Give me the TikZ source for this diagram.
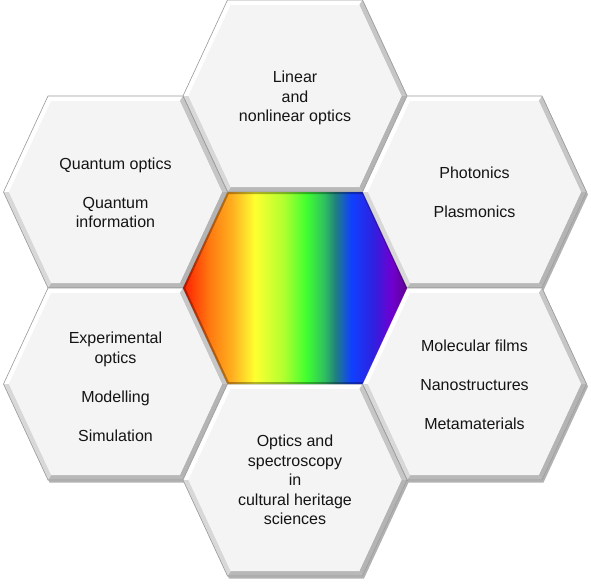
\documentclass[tikz,border=0pt]{standalone}
\usepackage{fontspec}
\setmainfont{Liberation Sans}
\usetikzlibrary{shadows}
\definecolor{rb0}{HTML}{FF1E00}
\definecolor{rb1}{HTML}{FF7A10}
\definecolor{rb2}{HTML}{FFB020}
\definecolor{rb3}{HTML}{FFFF30}
\definecolor{rb4}{HTML}{B0FF30}
\definecolor{rb5}{HTML}{40FF30}
\definecolor{rb6}{HTML}{30C060}
\definecolor{rb7}{HTML}{208080}
\definecolor{rb8}{HTML}{1040FF}
\definecolor{rb9}{HTML}{3020E0}
\definecolor{rb10}{HTML}{7000D0}
\definecolor{rb11}{HTML}{600090}
\definecolor{hexface}{HTML}{F4F4F4}
\definecolor{hexline}{HTML}{9A9A9A}
\definecolor{bevUR}{HTML}{C6C6C6}
\definecolor{bevLR}{HTML}{B4B4B4}
\definecolor{bevB}{HTML}{B8B8B8}
\definecolor{bevLL}{HTML}{D8D8D8}
\definecolor{txt}{HTML}{141414}
\pgfdeclarehorizontalshading{rainbowshade}{100bp}{color(0bp)=(rb0); color(25bp)=(rb0); color(31bp)=(rb1); color(36bp)=(rb2); color(41bp)=(rb3); color(47.5bp)=(rb4); color(52.5bp)=(rb5); color(56.5bp)=(rb6); color(59bp)=(rb7); color(62.5bp)=(rb8); color(67.5bp)=(rb9); color(71.5bp)=(rb10); color(75bp)=(rb11); color(100bp)=(rb11)}
\newcommand\hexcell[2]{%
  \coordinate (o1) at (#1-112,#2);
  \coordinate (o2) at (#1-67.5,#2-96);
  \coordinate (o3) at (#1+67.5,#2-96);
  \coordinate (o4) at (#1+112,#2);
  \coordinate (o5) at (#1+67.5,#2+96);
  \coordinate (o6) at (#1-67.5,#2+96);
  \coordinate (i1) at (#1-106.5,#2);
  \coordinate (i2) at (#1-64.3,#2-91);
  \coordinate (i3) at (#1+64.3,#2-91);
  \coordinate (i4) at (#1+106.5,#2);
  \coordinate (i5) at (#1+64.3,#2+91);
  \coordinate (i6) at (#1-64.3,#2+91);
  \fill[hexface, hexshadow] (o1) -- (o2) -- (o3) -- (o4) -- (o5) -- (o6) -- cycle;
  \fill[white] (o1) -- (o2) -- (i2) -- (i1) -- cycle;
  \fill[white] (o2) -- (o3) -- (i3) -- (i2) -- cycle;
  \fill[bevUR] (o3) -- (o4) -- (i4) -- (i3) -- cycle;
  \fill[bevLR] (o4) -- (o5) -- (i5) -- (i4) -- cycle;
  \fill[bevB] (o5) -- (o6) -- (i6) -- (i5) -- cycle;
  \fill[bevLL] (o6) -- (o1) -- (i1) -- (i6) -- cycle;
  \fill[hexface] (i1) -- (i2) -- (i3) -- (i4) -- (i5) -- (i6) -- cycle;
  \draw[hexline, line width=0.6pt, line join=round] (o1) -- (o2) -- (o3) -- (o4) -- (o5) -- (o6) -- cycle;
}
\begin{document}
\begin{tikzpicture}[x=1pt, y=-1pt,
  hexshadow/.style={drop shadow={shadow xshift=1.5pt, shadow yshift=-2.5pt, opacity=0.3, fill=black}},
  label/.style={align=center, text=txt, font=\fontsize{16}{19.5}\selectfont, inner sep=0pt}]
\useasboundingbox (0,0) rectangle (591,587);
\fill[white] (0,0) rectangle (591,587);
\hexcell{295}{96}
\hexcell{115.5}{192}
\hexcell{474.5}{192}
\hexcell{115.5}{384}
\hexcell{474.5}{384}
\hexcell{295}{480}
% centre
\shade[shading=rainbowshade] (295-112,288) -- (295-67.5,288-96) -- (295+67.5,288-96) -- (295+112,288) -- (295+67.5,288+96) -- (295-67.5,288+96) -- cycle;
\begin{scope}
  \clip (295-112,288) -- (295-67.5,288-96) -- (295+67.5,288-96) -- (295+112,288) -- (295+67.5,288+96) -- (295-67.5,288+96) -- cycle;
  \draw[black, opacity=0.3, line width=4pt] (295+67.5,288+96) -- (295-67.5,288+96) -- (295-112,288) -- (295-67.5,288-96) -- (295+67.5,288-96);
  \draw[black, opacity=0.25, line width=2pt] (295+67.5,288-96) -- (295+112,288);
\end{scope}
\node[inner sep=0pt] (c) at (295,288) {};
\node[label] (t) at (295,98) {Linear\\and\\nonlinear optics};
\node[label] (ul) at (115.5,193) {Quantum optics\\[19.5pt]Quantum\\information};
\node[label] (ur) at (474.5,192) {Photonics\\[19.5pt]Plasmonics};
\node[label] (ll) at (115.5,387) {Experimental\\optics\\[19.5pt]Modelling\\[19.5pt]Simulation};
\node[label] (lr) at (474.5,385) {Molecular films\\[19.5pt]Nanostructures\\[19.5pt]Metamaterials};
\node[label] (b) at (295,480) {Optics and\\spectroscopy\\in\\cultural heritage\\sciences};
\end{tikzpicture}
\end{document}
